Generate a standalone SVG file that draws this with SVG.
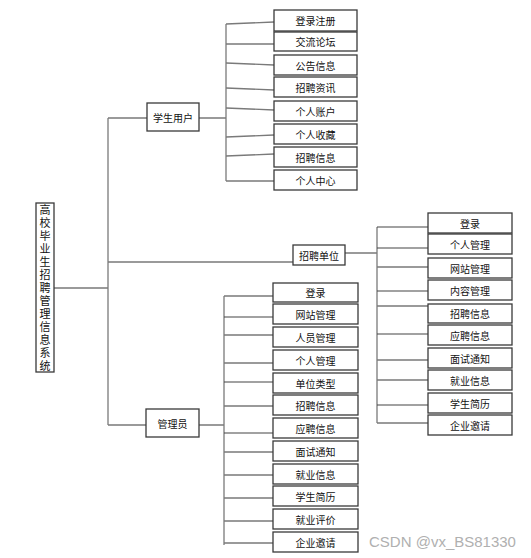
<svg xmlns="http://www.w3.org/2000/svg" width="531" height="558" viewBox="0 0 531 558">
<style>
.b{fill:#fff;stroke:#3a3a3a;stroke-width:1.3}
.t{font-family:"Noto Sans CJK SC","Liberation Sans",sans-serif;font-size:10px;fill:#111;text-anchor:middle;dominant-baseline:central}
.r{font-family:"Noto Sans CJK SC",sans-serif;font-size:11px;fill:#111;writing-mode:vertical-rl;text-orientation:upright;letter-spacing:2px}
.l{stroke:#7a7a7a;stroke-width:1.3;fill:none}
.d{stroke:#444;stroke-width:1.1;fill:none}
.w{font-family:"Liberation Sans",Arial,sans-serif;font-size:15px;fill:#b0b0b0}
</style>
<rect width="531" height="558" fill="#fff"/>
<g id="connectors">
<path class="l" d="M54 288H108M108 118V425M108 118H147M108 262H293M108 425H146"/>
<path class="l" d="M199 118H226M226 24V181"/>
<path class="l" d="M226 24L274 22M226 44H274M226 63L274 65M226 88L274 90M226 108L274 110M226 137L274 135M226 156L274 154M226 181H274"/>
<path class="l" d="M345 253H377M377 227V423"/>
<path class="d" d="M377 227H428M377 248H428M377 291H428M377 334H428M377 405H428"/>
<path class="l" d="M377 267H428M377 306H428M377 360H428M377 380H428M377 423H428"/>
<path class="l" d="M199 425H224M224 296V545"/>
<path class="l" d="M224 296H273M224 335H273M224 363H273M224 406H273M224 452H273M224 475H273M224 498H273M224 521H273M224 543H273"/>
<path class="d" d="M224 317H273M224 382H273M224 433H273"/>
</g>
<g id="root"><rect class="b" x="36" y="203" width="18" height="169"/>
<text class="r" x="45" y="204">高校毕业生招聘管理信息系统</text></g>
<g id="student"><rect class="b" x="147" y="103" width="52" height="28"/><text class="t" x="173" y="117">学生用户</text></g>
<g id="company"><rect class="b" x="293" y="245" width="52" height="20"/><text class="t" x="319" y="255">招聘单位</text></g>
<g id="admin"><rect class="b" x="146" y="409" width="53" height="28"/><text class="t" x="172.5" y="423">管理员</text></g>
<g id="s1"><rect class="b" x="274" y="10" width="83" height="21"/><text class="t" x="315.5" y="20.5">登录注册</text></g>
<g id="s2"><rect class="b" x="274" y="32" width="83" height="19"/><text class="t" x="315.5" y="41.5">交流论坛</text></g>
<g id="s3"><rect class="b" x="274" y="55" width="83" height="20"/><text class="t" x="315.5" y="65">公告信息</text></g>
<g id="s4"><rect class="b" x="274" y="77" width="83" height="20"/><text class="t" x="315.5" y="87">招聘资讯</text></g>
<g id="s5"><rect class="b" x="274" y="101" width="83" height="20"/><text class="t" x="315.5" y="111">个人账户</text></g>
<g id="s6"><rect class="b" x="274" y="124" width="83" height="20"/><text class="t" x="315.5" y="134">个人收藏</text></g>
<g id="s7"><rect class="b" x="274" y="147" width="83" height="20"/><text class="t" x="315.5" y="157">招聘信息</text></g>
<g id="s8"><rect class="b" x="274" y="170" width="83" height="20"/><text class="t" x="315.5" y="180">个人中心</text></g>
<g id="c1"><rect class="b" x="428" y="213" width="84" height="20"/><text class="t" x="470" y="223">登录</text></g>
<g id="c2"><rect class="b" x="428" y="234" width="84" height="20"/><text class="t" x="470" y="244">个人管理</text></g>
<g id="c3"><rect class="b" x="428" y="258" width="84" height="20"/><text class="t" x="470" y="268">网站管理</text></g>
<g id="c4"><rect class="b" x="428" y="280" width="84" height="20"/><text class="t" x="470" y="290">内容管理</text></g>
<g id="c5"><rect class="b" x="428" y="304" width="84" height="19"/><text class="t" x="470" y="313.5">招聘信息</text></g>
<g id="c6"><rect class="b" x="428" y="325" width="84" height="20"/><text class="t" x="470" y="335">应聘信息</text></g>
<g id="c7"><rect class="b" x="428" y="348" width="84" height="20"/><text class="t" x="470" y="358">面试通知</text></g>
<g id="c8"><rect class="b" x="428" y="370" width="84" height="20"/><text class="t" x="470" y="380">就业信息</text></g>
<g id="c9"><rect class="b" x="428" y="393" width="84" height="20"/><text class="t" x="470" y="403">学生简历</text></g>
<g id="c10"><rect class="b" x="428" y="415" width="84" height="20"/><text class="t" x="470" y="425">企业邀请</text></g>
<g id="a1"><rect class="b" x="273" y="283" width="85" height="19"/><text class="t" x="315.5" y="292.5">登录</text></g>
<g id="a2"><rect class="b" x="273" y="304" width="85" height="20"/><text class="t" x="315.5" y="314">网站管理</text></g>
<g id="a3"><rect class="b" x="273" y="327" width="85" height="20"/><text class="t" x="315.5" y="337">人员管理</text></g>
<g id="a4"><rect class="b" x="273" y="350" width="85" height="20"/><text class="t" x="315.5" y="360">个人管理</text></g>
<g id="a5"><rect class="b" x="273" y="373" width="85" height="20"/><text class="t" x="315.5" y="383">单位类型</text></g>
<g id="a6"><rect class="b" x="273" y="395" width="85" height="20"/><text class="t" x="315.5" y="405">招聘信息</text></g>
<g id="a7"><rect class="b" x="273" y="418" width="85" height="20"/><text class="t" x="315.5" y="428">应聘信息</text></g>
<g id="a8"><rect class="b" x="273" y="441" width="85" height="20"/><text class="t" x="315.5" y="451">面试通知</text></g>
<g id="a9"><rect class="b" x="273" y="464" width="85" height="20"/><text class="t" x="315.5" y="474">就业信息</text></g>
<g id="a10"><rect class="b" x="273" y="486" width="85" height="20"/><text class="t" x="315.5" y="496">学生简历</text></g>
<g id="a11"><rect class="b" x="273" y="509" width="85" height="20"/><text class="t" x="315.5" y="519">就业评价</text></g>
<g id="a12"><rect class="b" x="273" y="532" width="85" height="20"/><text class="t" x="315.5" y="542">企业邀请</text></g>
<text class="w" x="369" y="547">CSDN @vx_BS81330</text>
</svg>
